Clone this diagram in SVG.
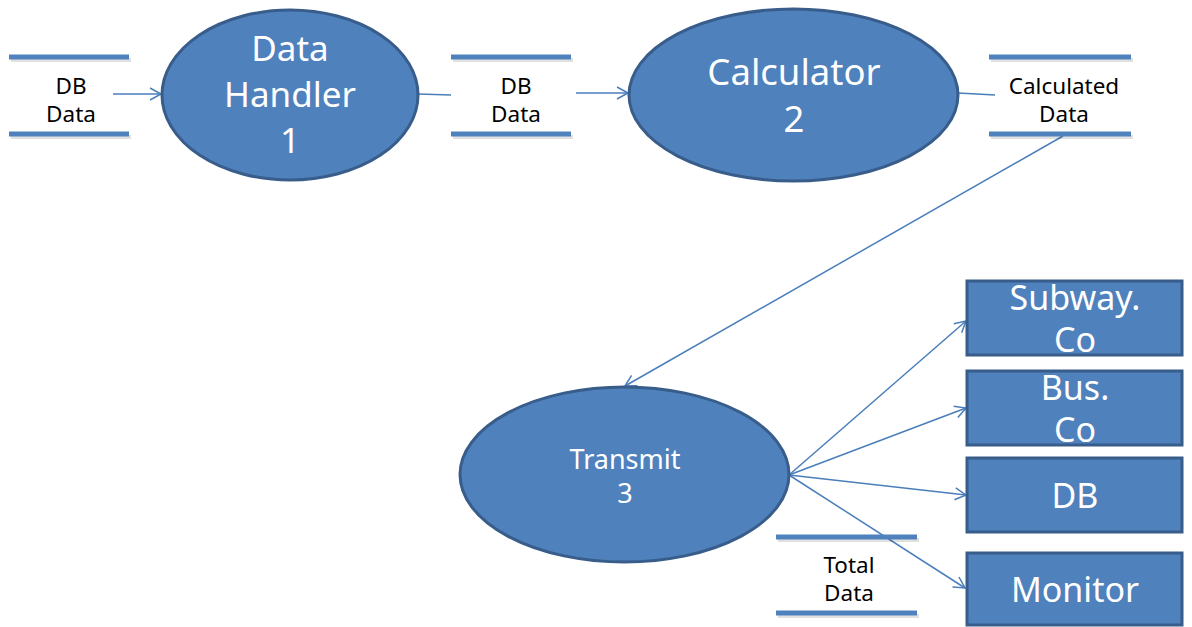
<svg xmlns="http://www.w3.org/2000/svg" width="1192" height="627" viewBox="0 0 1192 627">
<style>
.proc{fill:#4F81BD;stroke:#385D8A;stroke-width:3}
.box{fill:#4F81BD;stroke:#385D8A;stroke-width:3}
.bar{stroke:#4F81BD;stroke-width:5}
.sh{stroke:#000;stroke-opacity:0.12;stroke-width:4}
.wt{fill:#fff;font-family:"Noto Sans","Open Sans",sans-serif;text-anchor:middle}
.bt{fill:#000;font-family:"Noto Sans","Open Sans",sans-serif;text-anchor:middle;font-size:22.5px}
.c{stroke:#4A7EBB;stroke-width:1.5;fill:none}
</style>
<defs>
<marker id="ah" markerWidth="14" markerHeight="14" refX="12" refY="7" orient="auto" markerUnits="userSpaceOnUse">
<path d="M1,1 L12,7 L1,13" fill="none" stroke="#4A7EBB" stroke-width="1.5"/>
</marker>
</defs>
<rect width="1192" height="627" fill="#fff"/>
<g id="connectors">
<line class="c" x1="113" y1="94" x2="161" y2="94" marker-end="url(#ah)"/>
<line class="c" x1="418" y1="94" x2="451" y2="95"/>
<line class="c" x1="576" y1="93" x2="628" y2="93" marker-end="url(#ah)"/>
<line class="c" x1="958" y1="93" x2="995" y2="95"/>
<line class="c" x1="1063" y1="136" x2="625" y2="386" marker-end="url(#ah)"/>
<line class="c" x1="789" y1="475" x2="966" y2="321" marker-end="url(#ah)"/>
<line class="c" x1="789" y1="475" x2="966" y2="408" marker-end="url(#ah)"/>
<line class="c" x1="789" y1="475" x2="966" y2="495" marker-end="url(#ah)"/>
<line class="c" x1="789" y1="475" x2="965" y2="588" marker-end="url(#ah)"/>
</g>
<g id="store1">
<line class="sh" x1="11" y1="60" x2="131" y2="60"/><line class="sh" x1="11" y1="137" x2="131" y2="137"/>
<line class="bar" x1="9" y1="57" x2="129" y2="57"/><line class="bar" x1="9" y1="134" x2="129" y2="134"/>
<text class="bt" x="71" y="94">DB</text><text class="bt" x="71" y="122">Data</text>
</g>
<g id="store2">
<line class="sh" x1="453" y1="60" x2="573" y2="60"/><line class="sh" x1="453" y1="137" x2="573" y2="137"/>
<line class="bar" x1="451" y1="57" x2="571" y2="57"/><line class="bar" x1="451" y1="134" x2="571" y2="134"/>
<text class="bt" x="516" y="94">DB</text><text class="bt" x="516" y="122">Data</text>
</g>
<g id="store3">
<line class="sh" x1="991" y1="60" x2="1133" y2="60"/><line class="sh" x1="991" y1="137" x2="1133" y2="137"/>
<line class="bar" x1="989" y1="57" x2="1131" y2="57"/><line class="bar" x1="989" y1="134" x2="1131" y2="134"/>
<text class="bt" x="1064" y="94">Calculated</text><text class="bt" x="1064" y="122">Data</text>
</g>
<g id="store4">
<line class="sh" x1="778" y1="540" x2="919" y2="540"/><line class="sh" x1="778" y1="616" x2="919" y2="616"/>
<line class="bar" x1="776" y1="537" x2="917" y2="537"/><line class="bar" x1="776" y1="613" x2="917" y2="613"/>
<text class="bt" x="849" y="573">Total</text><text class="bt" x="849" y="601">Data</text>
</g>
<g id="handler">
<ellipse class="proc" cx="290" cy="95" rx="128" ry="85"/>
<text class="wt" font-size="35" x="290" y="61">Data</text>
<text class="wt" font-size="35" x="290" y="107">Handler</text>
<text class="wt" font-size="35" x="290" y="153">1</text>
</g>
<g id="calculator">
<ellipse class="proc" cx="793.5" cy="95" rx="164.5" ry="86"/>
<text class="wt" font-size="36.5" x="794" y="85">Calculator</text>
<text class="wt" font-size="36.5" x="794" y="132">2</text>
</g>
<g id="transmit">
<ellipse class="proc" cx="624.5" cy="474.5" rx="164.5" ry="87.5"/>
<text class="wt" font-size="27" x="625" y="469">Transmit</text>
<text class="wt" font-size="27" x="625" y="503">3</text>
</g>
<g id="subway">
<rect class="box" x="967" y="281" width="215" height="74"/>
<text class="wt" font-size="34" x="1075" y="310">Subway.</text>
<text class="wt" font-size="34" x="1075" y="352">Co</text>
</g>
<g id="bus">
<rect class="box" x="967" y="371" width="215" height="74"/>
<text class="wt" font-size="34" x="1075" y="400">Bus.</text>
<text class="wt" font-size="34" x="1075" y="442">Co</text>
</g>
<g id="db">
<rect class="box" x="967" y="458" width="215" height="74"/>
<text class="wt" font-size="34" x="1075" y="508">DB</text>
</g>
<g id="monitor">
<rect class="box" x="967" y="553" width="215" height="72"/>
<text class="wt" font-size="34" x="1075" y="602">Monitor</text>
</g>
</svg>
